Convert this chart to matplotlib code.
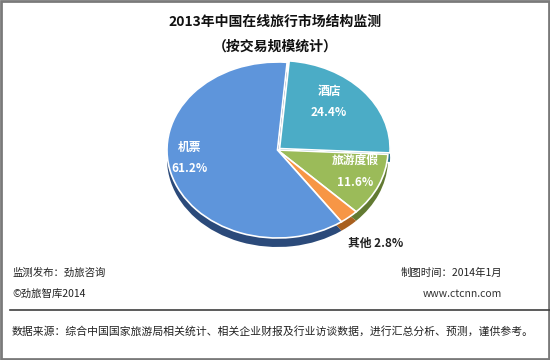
import matplotlib
matplotlib.use('Agg')
from matplotlib import pyplot as plt
from matplotlib.patches import Rectangle
from matplotlib.lines import Line2D

plt.rcParams['font.family'] = ['Noto Sans CJK SC', 'DejaVu Sans']

# data (clockwise from top)
labels = ['酒店', '旅游度假', '其他', '机票']
shares = [24.4, 11.6, 2.8, 61.2]
colors = ['#4BACC6', '#9BBB59', '#F79646', '#5E95DB']
shadow_colors = ['#2E7488', '#627A32', '#A8601F', '#2B4A7A']
explode = [0.025, 0, 0, 0]

title = '2013年中国在线旅行市场结构监测'
subtitle = '（按交易规模统计）'
foot_left = ['监测发布：劲旅咨询', '©劲旅智库2014']
foot_right = ['制图时间：2014年1月', 'www.ctcnn.com']
source = '数据来源：综合中国国家旅游局相关统计、相关企业财报及行业访谈数据，进行汇总分析、预测，谨供参考。'

W, H = 550, 360
fig = plt.figure(figsize=(W / 100, H / 100), dpi=100)
fig.patch.set_facecolor('white')

def fx(px):
    return px / W

def fy(py):
    return 1 - py / H

# pie area: top surface x 167..388, y 62..238 px, shadow to ~247
ax = fig.add_axes([fx(167), fy(247), fx(388) - fx(167), fy(62) - fy(247)])
depth = 9 / 88.0
ax.pie(shares, colors=shadow_colors, startangle=85, counterclock=False,
       explode=explode, center=(0, -depth), radius=1,
       wedgeprops=dict(linewidth=0))
ax.pie(shares, colors=colors, startangle=85, counterclock=False,
       explode=explode, radius=1,
       wedgeprops=dict(edgecolor='white', linewidth=1.2))
ax.set_aspect('auto')
ax.set_xlim(-1, 1)
ax.set_ylim(-1 - depth, 1)
ax.axis('off')

# slice labels (pixel positions)
lab_pos = [(329, 91), (355, 160), (0, 0), (190, 147)]
for i in [0, 1, 3]:
    x, y = lab_pos[i]
    fig.text(fx(x), fy(y), labels[i], color='white', fontsize=8.5,
             fontweight='bold', ha='center', va='center')
    fig.text(fx(x), fy(y + 22), f'{shares[i]}%', color='white', fontsize=8.5,
             fontweight='bold', ha='center', va='center')
fig.text(fx(348), fy(243), f'{labels[2]} {shares[2]}%', color='#222222',
         fontsize=8.5, fontweight='bold', ha='left', va='center')

# titles
fig.text(0.5, fy(22), title, fontsize=10, fontweight='bold', ha='center',
         va='center', color='#111111')
fig.text(0.5, fy(47), subtitle, fontsize=10, fontweight='bold', ha='center',
         va='center', color='#111111')

# footer
fig.text(fx(12), fy(273), foot_left[0], fontsize=7.5, ha='left', va='center', color='#222222')
fig.text(fx(12), fy(294), foot_left[1], fontsize=7.5, ha='left', va='center', color='#222222')
fig.text(fx(502), fy(273), foot_right[0], fontsize=7.5, ha='right', va='center', color='#222222')
fig.text(fx(502), fy(294), foot_right[1], fontsize=7.5, ha='right', va='center', color='#333333')
fig.text(fx(12), fy(331), source, fontsize=7.8, ha='left', va='center', color='#222222')

fig.add_artist(Line2D([fx(10), 1], [fy(310), fy(310)], color='#404040', linewidth=1.2))
fig.add_artist(Rectangle((0.002, 0.003), 0.996, 0.994, transform=fig.transFigure,
                         fill=False, edgecolor='#7a7a7a', linewidth=2))

fig.savefig('out.png', dpi=100)
